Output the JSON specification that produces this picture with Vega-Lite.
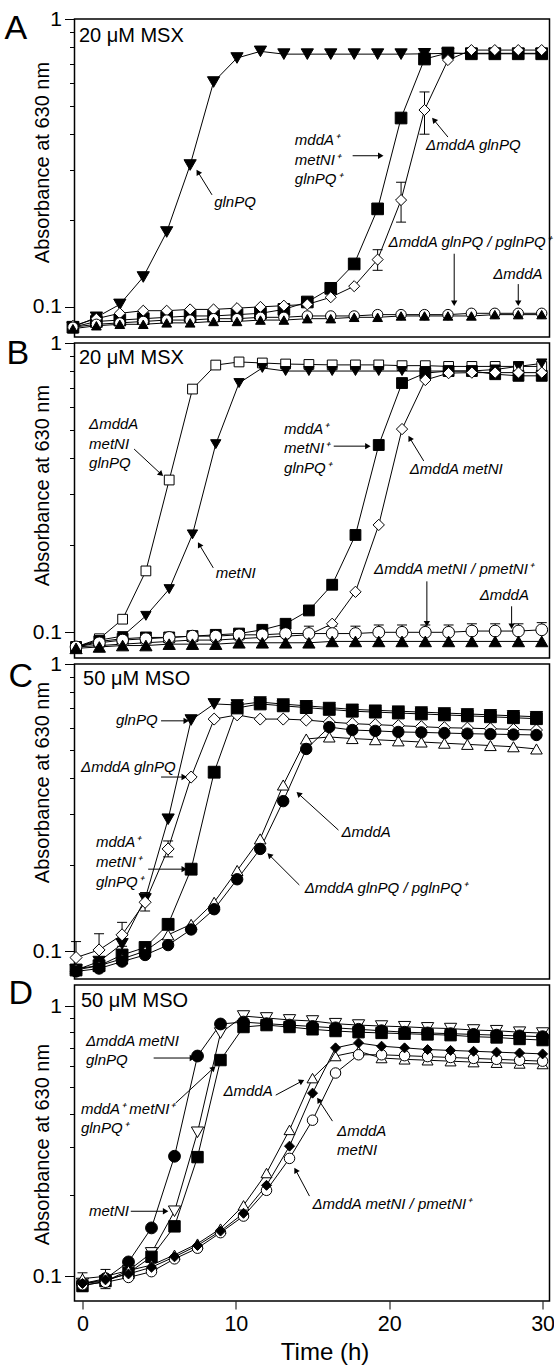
{
"$schema": "https://vega.github.io/schema/vega-lite/v6.json",
"background": "white",
"padding": {"left": 3.5, "top": 7, "right": 0, "bottom": 0},
"autosize": {"type": "pad"},
"config": {
  "view": {"stroke": "black", "strokeWidth": 1.5},
  "axis": {"grid": false, "domain": false, "tickColor": "black", "labelColor": "black", "titleColor": "black", "labelFont": "Liberation Sans", "titleFont": "Liberation Sans", "titleFontWeight": "normal", "tickWidth": 1},
  "axisY": {"tickSize": 10, "labelPadding": 3, "labelFontSize": 21, "titleFontSize": 20, "titleAngle": -90, "titleX": -26.5, "titleBaseline": "alphabetic", "titleAlign": "center"},
  "axisX": {"tickSize": 8, "labelPadding": 4, "labelFontSize": 22, "titleFontSize": 24, "labelFlush": false, "titlePadding": 6},
  "title": {"font": "Liberation Sans", "fontWeight": "normal", "color": "black"}
},
"datasets": {
  "A": [
    {"t":0,"glnPQ":0.085,"wt":0.085,"dglnPQ":0.086,"comp":0.085,"dmddA":0.084},
    {"t":1.5,"glnPQ":0.092,"wt":0.089,"dglnPQ":0.091,"comp":0.087,"dmddA":0.086},
    {"t":3,"glnPQ":0.102,"wt":0.090,"dglnPQ":0.095,"comp":0.088,"dmddA":0.087},
    {"t":4.5,"glnPQ":0.127,"wt":0.091,"dglnPQ":0.097,"comp":0.089,"dmddA":0.087},
    {"t":6,"glnPQ":0.182,"wt":0.092,"dglnPQ":0.097,"comp":0.090,"dmddA":0.088},
    {"t":7.5,"glnPQ":0.311,"wt":0.093,"dglnPQ":0.098,"comp":0.090,"dmddA":0.088},
    {"t":9,"glnPQ":0.604,"wt":0.093,"dglnPQ":0.098,"comp":0.091,"dmddA":0.089},
    {"t":10.5,"glnPQ":0.732,"wt":0.094,"dglnPQ":0.099,"comp":0.091,"dmddA":0.089},
    {"t":12,"glnPQ":0.772,"wt":0.095,"dglnPQ":0.100,"comp":0.092,"dmddA":0.090},
    {"t":13.5,"glnPQ":0.755,"wt":0.098,"dglnPQ":0.101,"comp":0.092,"dmddA":0.090},
    {"t":15,"glnPQ":0.755,"wt":0.104,"dglnPQ":0.102,"comp":0.093,"dmddA":0.091},
    {"t":16.5,"glnPQ":0.755,"wt":0.116,"dglnPQ":0.108,"comp":0.093,"dmddA":0.091},
    {"t":18,"glnPQ":0.755,"wt":0.141,"dglnPQ":0.118,"comp":0.093,"dmddA":0.092},
    {"t":19.5,"glnPQ":0.755,"wt":0.219,"dglnPQ":0.146,"comp":0.094,"dmddA":0.092},
    {"t":21,"glnPQ":0.755,"wt":0.453,"dglnPQ":0.235,"comp":0.094,"dmddA":0.093},
    {"t":22.5,"glnPQ":0.757,"wt":0.726,"dglnPQ":0.483,"comp":0.094,"dmddA":0.093},
    {"t":24,"glnPQ":0.76,"wt":0.762,"dglnPQ":0.72,"comp":0.094,"dmddA":0.093},
    {"t":25.5,"glnPQ":0.76,"wt":0.757,"dglnPQ":0.78,"comp":0.095,"dmddA":0.093},
    {"t":27,"glnPQ":0.76,"wt":0.757,"dglnPQ":0.78,"comp":0.095,"dmddA":0.094},
    {"t":28.5,"glnPQ":0.76,"wt":0.757,"dglnPQ":0.78,"comp":0.095,"dmddA":0.094},
    {"t":30,"glnPQ":0.76,"wt":0.757,"dglnPQ":0.78,"comp":0.095,"dmddA":0.094}
  ],
  "B": [
    {"t":0,"dtriple":0.089,"metNI":0.089,"wt":0.089,"dmetNI":0.089,"comp":0.089,"dmddA":0.088},
    {"t":1.5,"dtriple":0.095,"metNI":0.094,"wt":0.093,"dmetNI":0.090,"comp":0.092,"dmddA":0.089},
    {"t":3,"dtriple":0.111,"metNI":0.097,"wt":0.095,"dmetNI":0.091,"comp":0.094,"dmddA":0.090},
    {"t":4.5,"dtriple":0.163,"metNI":0.114,"wt":0.096,"dmetNI":0.092,"comp":0.095,"dmddA":0.090},
    {"t":6,"dtriple":0.336,"metNI":0.141,"wt":0.096,"dmetNI":0.093,"comp":0.096,"dmddA":0.091},
    {"t":7.5,"dtriple":0.693,"metNI":0.218,"wt":0.097,"dmetNI":0.094,"comp":0.097,"dmddA":0.091},
    {"t":9,"dtriple":0.839,"metNI":0.447,"wt":0.098,"dmetNI":0.094,"comp":0.097,"dmddA":0.091},
    {"t":10.5,"dtriple":0.86,"metNI":0.727,"wt":0.099,"dmetNI":0.095,"comp":0.098,"dmddA":0.092},
    {"t":12,"dtriple":0.853,"metNI":0.82,"wt":0.102,"dmetNI":0.096,"comp":0.098,"dmddA":0.092},
    {"t":13.5,"dtriple":0.846,"metNI":0.80,"wt":0.107,"dmetNI":0.097,"comp":0.099,"dmddA":0.092},
    {"t":15,"dtriple":0.843,"metNI":0.80,"wt":0.119,"dmetNI":0.098,"comp":0.099,"dmddA":0.092},
    {"t":16.5,"dtriple":0.84,"metNI":0.80,"wt":0.146,"dmetNI":0.107,"comp":0.099,"dmddA":0.093},
    {"t":18,"dtriple":0.84,"metNI":0.80,"wt":0.217,"dmetNI":0.138,"comp":0.099,"dmddA":0.093},
    {"t":19.5,"dtriple":0.84,"metNI":0.80,"wt":0.444,"dmetNI":0.235,"comp":0.100,"dmddA":0.093},
    {"t":21,"dtriple":0.835,"metNI":0.80,"wt":0.727,"dmetNI":0.504,"comp":0.100,"dmddA":0.093},
    {"t":22.5,"dtriple":0.835,"metNI":0.80,"wt":0.787,"dmetNI":0.745,"comp":0.100,"dmddA":0.093},
    {"t":24,"dtriple":0.83,"metNI":0.80,"wt":0.80,"dmetNI":0.787,"comp":0.100,"dmddA":0.093},
    {"t":25.5,"dtriple":0.83,"metNI":0.80,"wt":0.80,"dmetNI":0.79,"comp":0.101,"dmddA":0.093},
    {"t":27,"dtriple":0.83,"metNI":0.81,"wt":0.78,"dmetNI":0.79,"comp":0.101,"dmddA":0.093},
    {"t":28.5,"dtriple":0.83,"metNI":0.83,"wt":0.77,"dmetNI":0.79,"comp":0.101,"dmddA":0.093},
    {"t":30,"dtriple":0.83,"metNI":0.85,"wt":0.77,"dmetNI":0.79,"comp":0.102,"dmddA":0.093}
  ],
  "C": [
    {"t":0,"glnPQ":0.086,"dglnPQ":0.095,"wt":0.086,"dmddA":0.087,"comp":0.085},
    {"t":1.5,"glnPQ":0.092,"dglnPQ":0.101,"wt":0.089,"dmddA":0.089,"comp":0.087},
    {"t":3,"glnPQ":0.106,"dglnPQ":0.114,"wt":0.097,"dmddA":0.094,"comp":0.092},
    {"t":4.5,"glnPQ":0.152,"dglnPQ":0.148,"wt":0.103,"dmddA":0.100,"comp":0.097},
    {"t":6,"glnPQ":0.288,"dglnPQ":0.227,"wt":0.124,"dmddA":0.114,"comp":0.105},
    {"t":7.5,"glnPQ":0.638,"dglnPQ":0.404,"wt":0.193,"dmddA":0.124,"comp":0.119},
    {"t":9,"glnPQ":0.726,"dglnPQ":0.643,"wt":0.42,"dmddA":0.148,"comp":0.14},
    {"t":10.5,"glnPQ":0.72,"dglnPQ":0.665,"wt":0.703,"dmddA":0.191,"comp":0.178},
    {"t":12,"glnPQ":0.737,"dglnPQ":0.643,"wt":0.726,"dmddA":0.246,"comp":0.227},
    {"t":13.5,"glnPQ":0.725,"dglnPQ":0.643,"wt":0.715,"dmddA":0.379,"comp":0.333},
    {"t":15,"glnPQ":0.715,"dglnPQ":0.638,"wt":0.705,"dmddA":0.548,"comp":0.506},
    {"t":16.5,"glnPQ":0.705,"dglnPQ":0.628,"wt":0.695,"dmddA":0.557,"comp":0.603},
    {"t":18,"glnPQ":0.695,"dglnPQ":0.62,"wt":0.685,"dmddA":0.55,"comp":0.589},
    {"t":19.5,"glnPQ":0.69,"dglnPQ":0.615,"wt":0.68,"dmddA":0.545,"comp":0.585},
    {"t":21,"glnPQ":0.685,"dglnPQ":0.61,"wt":0.675,"dmddA":0.54,"comp":0.58},
    {"t":22.5,"glnPQ":0.68,"dglnPQ":0.605,"wt":0.67,"dmddA":0.535,"comp":0.578},
    {"t":24,"glnPQ":0.675,"dglnPQ":0.60,"wt":0.665,"dmddA":0.53,"comp":0.575},
    {"t":25.5,"glnPQ":0.67,"dglnPQ":0.598,"wt":0.66,"dmddA":0.525,"comp":0.572},
    {"t":27,"glnPQ":0.665,"dglnPQ":0.595,"wt":0.655,"dmddA":0.52,"comp":0.57},
    {"t":28.5,"glnPQ":0.66,"dglnPQ":0.592,"wt":0.65,"dmddA":0.515,"comp":0.568},
    {"t":30,"glnPQ":0.655,"dglnPQ":0.589,"wt":0.645,"dmddA":0.506,"comp":0.566}
  ],
  "D": [
    {"t":0,"metNI":0.094,"dtriple":0.094,"wt":0.092,"dmddA":0.098,"comp":0.093,"dmetNI":0.094},
    {"t":1.5,"metNI":0.096,"dtriple":0.098,"wt":0.096,"dmddA":0.100,"comp":0.095,"dmetNI":0.097},
    {"t":3,"metNI":0.105,"dtriple":0.113,"wt":0.103,"dmddA":0.105,"comp":0.099,"dmetNI":0.102},
    {"t":4.5,"metNI":0.122,"dtriple":0.151,"wt":0.118,"dmddA":0.110,"comp":0.104,"dmetNI":0.108},
    {"t":6,"metNI":0.174,"dtriple":0.278,"wt":0.153,"dmddA":0.120,"comp":0.116,"dmetNI":0.118},
    {"t":7.5,"metNI":0.341,"dtriple":0.653,"wt":0.276,"dmddA":0.132,"comp":0.127,"dmetNI":0.130},
    {"t":9,"metNI":0.794,"dtriple":0.858,"wt":0.631,"dmddA":0.150,"comp":0.145,"dmetNI":0.147},
    {"t":10.5,"metNI":0.918,"dtriple":0.872,"wt":0.836,"dmddA":0.183,"comp":0.167,"dmetNI":0.171},
    {"t":12,"metNI":0.903,"dtriple":0.86,"wt":0.85,"dmddA":0.241,"comp":0.208,"dmetNI":0.217},
    {"t":13.5,"metNI":0.888,"dtriple":0.85,"wt":0.836,"dmddA":0.348,"comp":0.273,"dmetNI":0.303},
    {"t":15,"metNI":0.88,"dtriple":0.84,"wt":0.82,"dmddA":0.541,"comp":0.378,"dmetNI":0.476},
    {"t":16.5,"metNI":0.86,"dtriple":0.83,"wt":0.808,"dmddA":0.653,"comp":0.565,"dmetNI":0.70},
    {"t":18,"metNI":0.85,"dtriple":0.82,"wt":0.80,"dmddA":0.68,"comp":0.66,"dmetNI":0.73},
    {"t":19.5,"metNI":0.843,"dtriple":0.81,"wt":0.795,"dmddA":0.642,"comp":0.66,"dmetNI":0.71},
    {"t":21,"metNI":0.838,"dtriple":0.80,"wt":0.79,"dmddA":0.635,"comp":0.655,"dmetNI":0.70},
    {"t":22.5,"metNI":0.83,"dtriple":0.795,"wt":0.785,"dmddA":0.63,"comp":0.65,"dmetNI":0.69},
    {"t":24,"metNI":0.825,"dtriple":0.79,"wt":0.78,"dmddA":0.625,"comp":0.645,"dmetNI":0.685},
    {"t":25.5,"metNI":0.815,"dtriple":0.785,"wt":0.77,"dmddA":0.62,"comp":0.64,"dmetNI":0.68},
    {"t":27,"metNI":0.81,"dtriple":0.78,"wt":0.765,"dmddA":0.617,"comp":0.635,"dmetNI":0.675},
    {"t":28.5,"metNI":0.80,"dtriple":0.775,"wt":0.755,"dmddA":0.613,"comp":0.63,"dmetNI":0.67},
    {"t":30,"metNI":0.794,"dtriple":0.77,"wt":0.748,"dmddA":0.61,"comp":0.625,"dmetNI":0.665}
  ],
  "err": [
    {"p":"A","t":19.5,"lo":0.134,"hi":0.158},
    {"p":"A","t":21,"lo":0.197,"hi":0.271},
    {"p":"A","t":22.5,"lo":0.398,"hi":0.558},
    {"p":"B","t":15,"lo":0.094,"hi":0.105},
    {"p":"B","t":16.5,"lo":0.094,"hi":0.105},
    {"p":"B","t":18,"lo":0.094,"hi":0.105},
    {"p":"B","t":19.5,"lo":0.095,"hi":0.106},
    {"p":"B","t":21,"lo":0.095,"hi":0.106},
    {"p":"B","t":22.5,"lo":0.095,"hi":0.106},
    {"p":"B","t":24,"lo":0.095,"hi":0.106},
    {"p":"B","t":25.5,"lo":0.096,"hi":0.107},
    {"p":"B","t":27,"lo":0.096,"hi":0.107},
    {"p":"B","t":28.5,"lo":0.096,"hi":0.107},
    {"p":"B","t":30,"lo":0.097,"hi":0.108},
    {"p":"C","t":0,"lo":0.086,"hi":0.108},
    {"p":"C","t":1.5,"lo":0.092,"hi":0.115},
    {"p":"C","t":3,"lo":0.104,"hi":0.126},
    {"p":"C","t":4.5,"lo":0.138,"hi":0.160},
    {"p":"C","t":6,"lo":0.213,"hi":0.242},
    {"p":"D","t":0,"lo":0.088,"hi":0.103},
    {"p":"D","t":1.5,"lo":0.090,"hi":0.106}
  ],
  "cond": [
    {"p":"A","t":0.38,"v":0.832,"label":"20 μM MSX"},
    {"p":"B","t":0.19,"v":0.846,"label":"20 μM MSX"},
    {"p":"C","t":0.46,"v":0.845,"label":"50 μM MSO"},
    {"p":"D","t":-0.1,"v":0.99,"label":"50 μM MSO"}
  ],
  "ann": [
    {"p":"A","t":9.04,"v":0.222,"label":"glnPQ"},
    {"p":"A","t":14.2,"v":0.365,"label":"mddA⁺\nmetNI⁺\nglnPQ⁺"},
    {"p":"A","t":22.6,"v":0.351,"label":"ΔmddA glnPQ"},
    {"p":"A","t":20.2,"v":0.161,"label":"ΔmddA glnPQ / pglnPQ⁺"},
    {"p":"A","t":26.9,"v":0.125,"label":"ΔmddA"},
    {"p":"B","t":0.84,"v":0.504,"label":"ΔmddA\nmetNI\nglnPQ"},
    {"p":"B","t":9.0,"v":0.154,"label":"metNI"},
    {"p":"B","t":13.4,"v":0.485,"label":"mddA⁺\nmetNI⁺\nglnPQ⁺"},
    {"p":"B","t":21.5,"v":0.352,"label":"ΔmddA metNI"},
    {"p":"B","t":19.2,"v":0.159,"label":"ΔmddA metNI / pmetNI⁺"},
    {"p":"B","t":26.0,"v":0.129,"label":"ΔmddA"},
    {"p":"C","t":2.6,"v":0.613,"label":"glnPQ"},
    {"p":"C","t":0.33,"v":0.42,"label":"ΔmddA glnPQ"},
    {"p":"C","t":1.3,"v":0.23,"label":"mddA⁺\nmetNI⁺\nglnPQ⁺"},
    {"p":"C","t":17.3,"v":0.25,"label":"ΔmddA"},
    {"p":"C","t":14.9,"v":0.16,"label":"ΔmddA glnPQ / pglnPQ⁺"},
    {"p":"D","t":0.23,"v":0.711,"label":"ΔmddA metNI\nglnPQ"},
    {"p":"D","t":-0.1,"v":0.398,"label":"mddA⁺ metNI⁺\nglnPQ⁺"},
    {"p":"D","t":0.42,"v":0.167,"label":"metNI"},
    {"p":"D","t":9.19,"v":0.464,"label":"ΔmddA"},
    {"p":"D","t":16.6,"v":0.33,"label":"ΔmddA\nmetNI"},
    {"p":"D","t":15.0,"v":0.178,"label":"ΔmddA metNI / pmetNI⁺"}
  ],
  "arr": [
    {"p":"A","t":8.9,"v":0.245,"t2":8.0,"v2":0.294,"ang":329},
    {"p":"A","t":17.9,"v":0.335,"t2":19.7,"v2":0.335,"ang":90},
    {"p":"A","t":24.0,"v":0.389,"t2":23.1,"v2":0.446,"ang":320},
    {"p":"A","t":24.4,"v":0.153,"t2":24.4,"v2":0.103,"ang":180},
    {"p":"A","t":28.5,"v":0.120,"t2":28.5,"v2":0.103,"ang":180},
    {"p":"B","t":3.74,"v":0.430,"t2":5.48,"v2":0.352,"ang":133},
    {"p":"B","t":8.84,"v":0.167,"t2":7.94,"v2":0.201,"ang":330},
    {"p":"B","t":16.6,"v":0.44,"t2":18.8,"v2":0.44,"ang":90},
    {"p":"B","t":22.4,"v":0.391,"t2":21.5,"v2":0.469,"ang":330},
    {"p":"B","t":22.6,"v":0.150,"t2":22.6,"v2":0.107,"ang":180},
    {"p":"B","t":28.06,"v":0.123,"t2":28.06,"v2":0.105,"ang":180},
    {"p":"C","t":5.54,"v":0.634,"t2":7.18,"v2":0.634,"ang":90},
    {"p":"C","t":5.54,"v":0.404,"t2":7.05,"v2":0.404,"ang":90},
    {"p":"C","t":4.7,"v":0.193,"t2":7.05,"v2":0.193,"ang":90},
    {"p":"C","t":17.1,"v":0.264,"t2":14.5,"v2":0.353,"ang":312},
    {"p":"C","t":14.55,"v":0.17,"t2":12.6,"v2":0.216,"ang":315},
    {"p":"D","t":4.64,"v":0.642,"t2":7.17,"v2":0.642,"ang":90},
    {"p":"D","t":6.07,"v":0.437,"t2":8.54,"v2":0.589,"ang":47},
    {"p":"D","t":3.15,"v":0.174,"t2":5.42,"v2":0.174,"ang":90},
    {"p":"D","t":12.6,"v":0.468,"t2":14.3,"v2":0.527,"ang":63},
    {"p":"D","t":16.3,"v":0.375,"t2":15.4,"v2":0.449,"ang":326},
    {"p":"D","t":14.8,"v":0.198,"t2":13.9,"v2":0.247,"ang":330}
  ]
},
"bounds": "flush",
"spacing": 6,
"resolve": {"scale": {"shape": "independent", "fill": "independent", "size": "independent"}},
"vconcat": [
{
  "width": 475, "height": 318,
  "title": {"text": "A", "orient": "none", "anchor": "start", "frame": "group", "offset": 0, "dx": -70, "dy": 20, "baseline": "alphabetic", "align": "left", "fontSize": 34},
  "resolve": {"axis": {"y": "independent"}},
  "layer": [
    {"data": {"name": "err"}, "transform": [{"filter": "datum.p === 'A'"}], "mark": {"type": "rule", "color": "black", "strokeWidth": 1},
     "encoding": {"x": {"field": "t", "type": "quantitative", "scale": {"domain": [0.1, 30.5], "nice": false, "zero": false}, "axis": null},
                  "y": {"field": "lo", "type": "quantitative", "scale": {"type": "log", "domain": [0.0786, 1], "nice": false}, "axis": null}, "y2": {"field": "hi"}}},
    {"data": {"name": "err"}, "transform": [{"filter": "datum.p === 'A'"}], "mark": {"type": "tick", "orient": "horizontal", "color": "black", "size": 10, "thickness": 1, "opacity": 1},
     "encoding": {"x": {"field": "t", "type": "quantitative", "scale": {"domain": [0.1, 30.5], "nice": false, "zero": false}, "axis": null},
                  "y": {"field": "hi", "type": "quantitative", "scale": {"type": "log", "domain": [0.0786, 1], "nice": false}, "axis": null}}},
    {"data": {"name": "err"}, "transform": [{"filter": "datum.p === 'A'"}], "mark": {"type": "tick", "orient": "horizontal", "color": "black", "size": 10, "thickness": 1, "opacity": 1},
     "encoding": {"x": {"field": "t", "type": "quantitative", "scale": {"domain": [0.1, 30.5], "nice": false, "zero": false}, "axis": null},
                  "y": {"field": "lo", "type": "quantitative", "scale": {"type": "log", "domain": [0.0786, 1], "nice": false}, "axis": null}}},
    {"data": {"name": "A"}, "transform": [{"fold": ["glnPQ", "wt", "dglnPQ", "comp", "dmddA"], "as": ["s", "v"]}],
     "mark": {"type": "line", "color": "black", "strokeWidth": 1},
     "encoding": {"x": {"field": "t", "type": "quantitative", "scale": {"domain": [0.1, 30.5], "nice": false, "zero": false}, "axis": null},
                  "y": {"field": "v", "type": "quantitative", "scale": {"type": "log", "domain": [0.0786, 1], "nice": false}, "axis": {"values": [0.1, 1], "format": "~g", "title": "Absorbance at 630 nm", "titleY": 143, "orient": "left"}},
                  "detail": {"field": "s"}}},
    {"data": {"name": "A"}, "transform": [{"fold": ["glnPQ", "wt", "dglnPQ", "comp", "dmddA"], "as": ["s", "v"]}],
     "mark": {"type": "point", "filled": true, "stroke": "black", "strokeWidth": 1, "opacity": 1, "fillOpacity": 1},
     "encoding": {"x": {"field": "t", "type": "quantitative", "scale": {"domain": [0.1, 30.5], "nice": false, "zero": false}, "axis": null},
                  "y": {"field": "v", "type": "quantitative", "scale": {"type": "log", "domain": [0.0786, 1], "nice": false}, "axis": {"values": [0.2, 0.3, 0.4, 0.5, 0.6, 0.7, 0.8, 0.9], "labels": false, "tickSize": 5, "title": null, "orient": "left"}},
                  "shape": {"field": "s", "type": "nominal", "scale": {"domain": ["glnPQ", "wt", "dglnPQ", "comp", "dmddA"], "range": ["triangle-down", "square", "diamond", "circle", "triangle-up"]}, "legend": null},
                  "fill": {"field": "s", "type": "nominal", "scale": {"domain": ["glnPQ", "wt", "dglnPQ", "comp", "dmddA"], "range": ["black", "black", "white", "white", "black"]}, "legend": null},
                  "size": {"field": "s", "type": "nominal", "scale": {"domain": ["glnPQ", "wt", "dglnPQ", "comp", "dmddA"], "range": [150, 95, 130, 100, 130]}, "legend": null}}},
    {"data": {"name": "arr"}, "transform": [{"filter": "datum.p === 'A'"}], "mark": {"type": "rule", "color": "black", "strokeWidth": 1},
     "encoding": {"x": {"field": "t", "type": "quantitative", "scale": {"domain": [0.1, 30.5], "nice": false, "zero": false}, "axis": null},
                  "y": {"field": "v", "type": "quantitative", "scale": {"type": "log", "domain": [0.0786, 1], "nice": false}, "axis": null},
                  "x2": {"field": "t2"}, "y2": {"field": "v2"}}},
    {"data": {"name": "arr"}, "transform": [{"filter": "datum.p === 'A'"}], "mark": {"type": "point", "shape": "triangle-up", "filled": true, "color": "black", "size": 40, "opacity": 1},
     "encoding": {"x": {"field": "t2", "type": "quantitative", "scale": {"domain": [0.1, 30.5], "nice": false, "zero": false}, "axis": null},
                  "y": {"field": "v2", "type": "quantitative", "scale": {"type": "log", "domain": [0.0786, 1], "nice": false}, "axis": null},
                  "angle": {"field": "ang", "type": "quantitative", "scale": null}}},
    {"data": {"name": "ann"}, "transform": [{"filter": "datum.p === 'A'"}], "mark": {"type": "text", "align": "left", "baseline": "alphabetic", "fontStyle": "italic", "fontSize": 15, "font": "Liberation Sans", "lineBreak": "\n", "lineHeight": 19.5, "color": "black"},
     "encoding": {"x": {"field": "t", "type": "quantitative", "scale": {"domain": [0.1, 30.5], "nice": false, "zero": false}, "axis": null},
                  "y": {"field": "v", "type": "quantitative", "scale": {"type": "log", "domain": [0.0786, 1], "nice": false}, "axis": null},
                  "text": {"field": "label", "type": "nominal"}}},
    {"data": {"name": "cond"}, "transform": [{"filter": "datum.p === 'A'"}], "mark": {"type": "text", "align": "left", "baseline": "alphabetic", "fontSize": 20, "font": "Liberation Sans", "color": "black"},
     "encoding": {"x": {"field": "t", "type": "quantitative", "scale": {"domain": [0.1, 30.5], "nice": false, "zero": false}, "axis": null},
                  "y": {"field": "v", "type": "quantitative", "scale": {"type": "log", "domain": [0.0786, 1], "nice": false}, "axis": null},
                  "text": {"field": "label", "type": "nominal"}}}
  ]
},
{
  "width": 475, "height": 315,
  "title": {"text": "B", "orient": "none", "anchor": "start", "frame": "group", "offset": 0, "dx": -68, "dy": 21, "baseline": "alphabetic", "align": "left", "fontSize": 34},
  "resolve": {"axis": {"y": "independent"}},
  "layer": [
    {"data": {"name": "err"}, "transform": [{"filter": "datum.p === 'B'"}], "mark": {"type": "rule", "color": "black", "strokeWidth": 1},
     "encoding": {"x": {"field": "t", "type": "quantitative", "scale": {"domain": [-0.1, 30.5], "nice": false, "zero": false}, "axis": null},
                  "y": {"field": "lo", "type": "quantitative", "scale": {"type": "log", "domain": [0.0815, 1], "nice": false}, "axis": null}, "y2": {"field": "hi"}}},
    {"data": {"name": "err"}, "transform": [{"filter": "datum.p === 'B'"}], "mark": {"type": "tick", "orient": "horizontal", "color": "black", "size": 10, "thickness": 1, "opacity": 1},
     "encoding": {"x": {"field": "t", "type": "quantitative", "scale": {"domain": [-0.1, 30.5], "nice": false, "zero": false}, "axis": null},
                  "y": {"field": "hi", "type": "quantitative", "scale": {"type": "log", "domain": [0.0815, 1], "nice": false}, "axis": null}}},
    {"data": {"name": "B"}, "transform": [{"fold": ["dtriple", "metNI", "wt", "dmetNI", "comp", "dmddA"], "as": ["s", "v"]}],
     "mark": {"type": "line", "color": "black", "strokeWidth": 1},
     "encoding": {"x": {"field": "t", "type": "quantitative", "scale": {"domain": [-0.1, 30.5], "nice": false, "zero": false}, "axis": null},
                  "y": {"field": "v", "type": "quantitative", "scale": {"type": "log", "domain": [0.0815, 1], "nice": false}, "axis": {"values": [0.1, 1], "format": "~g", "title": "Absorbance at 630 nm", "titleY": 142, "orient": "left"}},
                  "detail": {"field": "s"}}},
    {"data": {"name": "B"}, "transform": [{"fold": ["dtriple", "metNI", "wt", "dmetNI", "comp", "dmddA"], "as": ["s", "v"]}],
     "mark": {"type": "point", "filled": true, "stroke": "black", "strokeWidth": 1, "opacity": 1, "fillOpacity": 1},
     "encoding": {"x": {"field": "t", "type": "quantitative", "scale": {"domain": [-0.1, 30.5], "nice": false, "zero": false}, "axis": null},
                  "y": {"field": "v", "type": "quantitative", "scale": {"type": "log", "domain": [0.0815, 1], "nice": false}, "axis": {"values": [0.2, 0.3, 0.4, 0.5, 0.6, 0.7, 0.8, 0.9], "labels": false, "tickSize": 5, "title": null, "orient": "left"}},
                  "shape": {"field": "s", "type": "nominal", "scale": {"domain": ["dtriple", "metNI", "wt", "dmetNI", "comp", "dmddA"], "range": ["square", "triangle-down", "square", "diamond", "circle", "triangle-up"]}, "legend": null},
                  "fill": {"field": "s", "type": "nominal", "scale": {"domain": ["dtriple", "metNI", "wt", "dmetNI", "comp", "dmddA"], "range": ["white", "black", "black", "white", "white", "black"]}, "legend": null},
                  "size": {"field": "s", "type": "nominal", "scale": {"domain": ["dtriple", "metNI", "wt", "dmetNI", "comp", "dmddA"], "range": [95, 150, 95, 130, 100, 130]}, "legend": null}}},
    {"data": {"name": "arr"}, "transform": [{"filter": "datum.p === 'B'"}], "mark": {"type": "rule", "color": "black", "strokeWidth": 1},
     "encoding": {"x": {"field": "t", "type": "quantitative", "scale": {"domain": [-0.1, 30.5], "nice": false, "zero": false}, "axis": null},
                  "y": {"field": "v", "type": "quantitative", "scale": {"type": "log", "domain": [0.0815, 1], "nice": false}, "axis": null},
                  "x2": {"field": "t2"}, "y2": {"field": "v2"}}},
    {"data": {"name": "arr"}, "transform": [{"filter": "datum.p === 'B'"}], "mark": {"type": "point", "shape": "triangle-up", "filled": true, "color": "black", "size": 40, "opacity": 1},
     "encoding": {"x": {"field": "t2", "type": "quantitative", "scale": {"domain": [-0.1, 30.5], "nice": false, "zero": false}, "axis": null},
                  "y": {"field": "v2", "type": "quantitative", "scale": {"type": "log", "domain": [0.0815, 1], "nice": false}, "axis": null},
                  "angle": {"field": "ang", "type": "quantitative", "scale": null}}},
    {"data": {"name": "ann"}, "transform": [{"filter": "datum.p === 'B'"}], "mark": {"type": "text", "align": "left", "baseline": "alphabetic", "fontStyle": "italic", "fontSize": 15, "font": "Liberation Sans", "lineBreak": "\n", "lineHeight": 19.5, "color": "black"},
     "encoding": {"x": {"field": "t", "type": "quantitative", "scale": {"domain": [-0.1, 30.5], "nice": false, "zero": false}, "axis": null},
                  "y": {"field": "v", "type": "quantitative", "scale": {"type": "log", "domain": [0.0815, 1], "nice": false}, "axis": null},
                  "text": {"field": "label", "type": "nominal"}}},
    {"data": {"name": "cond"}, "transform": [{"filter": "datum.p === 'B'"}], "mark": {"type": "text", "align": "left", "baseline": "alphabetic", "fontSize": 20, "font": "Liberation Sans", "color": "black"},
     "encoding": {"x": {"field": "t", "type": "quantitative", "scale": {"domain": [-0.1, 30.5], "nice": false, "zero": false}, "axis": null},
                  "y": {"field": "v", "type": "quantitative", "scale": {"type": "log", "domain": [0.0815, 1], "nice": false}, "axis": null},
                  "text": {"field": "label", "type": "nominal"}}}
  ]
},
{
  "width": 475, "height": 315,
  "title": {"text": "C", "orient": "none", "anchor": "start", "frame": "group", "offset": 0, "dx": -66, "dy": 23, "baseline": "alphabetic", "align": "left", "fontSize": 34},
  "resolve": {"axis": {"y": "independent"}},
  "layer": [
    {"data": {"name": "err"}, "transform": [{"filter": "datum.p === 'C'"}], "mark": {"type": "rule", "color": "black", "strokeWidth": 1},
     "encoding": {"x": {"field": "t", "type": "quantitative", "scale": {"domain": [-0.1, 30.85], "nice": false, "zero": false}, "axis": null},
                  "y": {"field": "lo", "type": "quantitative", "scale": {"type": "log", "domain": [0.080, 1], "nice": false}, "axis": null}, "y2": {"field": "hi"}}},
    {"data": {"name": "err"}, "transform": [{"filter": "datum.p === 'C'"}], "mark": {"type": "tick", "orient": "horizontal", "color": "black", "size": 10, "thickness": 1, "opacity": 1},
     "encoding": {"x": {"field": "t", "type": "quantitative", "scale": {"domain": [-0.1, 30.85], "nice": false, "zero": false}, "axis": null},
                  "y": {"field": "hi", "type": "quantitative", "scale": {"type": "log", "domain": [0.080, 1], "nice": false}, "axis": null}}},
    {"data": {"name": "err"}, "transform": [{"filter": "datum.p === 'C'"}], "mark": {"type": "tick", "orient": "horizontal", "color": "black", "size": 10, "thickness": 1, "opacity": 1},
     "encoding": {"x": {"field": "t", "type": "quantitative", "scale": {"domain": [-0.1, 30.85], "nice": false, "zero": false}, "axis": null},
                  "y": {"field": "lo", "type": "quantitative", "scale": {"type": "log", "domain": [0.080, 1], "nice": false}, "axis": null}}},
    {"data": {"name": "C"}, "transform": [{"fold": ["glnPQ", "dglnPQ", "wt", "dmddA", "comp"], "as": ["s", "v"]}],
     "mark": {"type": "line", "color": "black", "strokeWidth": 1},
     "encoding": {"x": {"field": "t", "type": "quantitative", "scale": {"domain": [-0.1, 30.85], "nice": false, "zero": false}, "axis": null},
                  "y": {"field": "v", "type": "quantitative", "scale": {"type": "log", "domain": [0.080, 1], "nice": false}, "axis": {"values": [0.1, 1], "format": "~g", "title": "Absorbance at 630 nm", "titleY": 118, "orient": "left"}},
                  "detail": {"field": "s"}}},
    {"data": {"name": "C"}, "transform": [{"fold": ["glnPQ", "dglnPQ", "wt", "dmddA", "comp"], "as": ["s", "v"]}],
     "mark": {"type": "point", "filled": true, "stroke": "black", "strokeWidth": 1, "opacity": 1, "fillOpacity": 1},
     "encoding": {"x": {"field": "t", "type": "quantitative", "scale": {"domain": [-0.1, 30.85], "nice": false, "zero": false}, "axis": null},
                  "y": {"field": "v", "type": "quantitative", "scale": {"type": "log", "domain": [0.080, 1], "nice": false}, "axis": {"values": [0.2, 0.3, 0.4, 0.5, 0.6, 0.7, 0.8, 0.9], "labels": false, "tickSize": 5, "title": null, "orient": "left"}},
                  "shape": {"field": "s", "type": "nominal", "scale": {"domain": ["glnPQ", "dglnPQ", "wt", "dmddA", "comp"], "range": ["triangle-down", "diamond", "square", "triangle-up", "circle"]}, "legend": null},
                  "fill": {"field": "s", "type": "nominal", "scale": {"domain": ["glnPQ", "dglnPQ", "wt", "dmddA", "comp"], "range": ["black", "white", "black", "white", "black"]}, "legend": null},
                  "size": {"field": "s", "type": "nominal", "scale": {"domain": ["glnPQ", "dglnPQ", "wt", "dmddA", "comp"], "range": [150, 130, 95, 150, 100]}, "legend": null}}},
    {"data": {"name": "arr"}, "transform": [{"filter": "datum.p === 'C'"}], "mark": {"type": "rule", "color": "black", "strokeWidth": 1},
     "encoding": {"x": {"field": "t", "type": "quantitative", "scale": {"domain": [-0.1, 30.85], "nice": false, "zero": false}, "axis": null},
                  "y": {"field": "v", "type": "quantitative", "scale": {"type": "log", "domain": [0.080, 1], "nice": false}, "axis": null},
                  "x2": {"field": "t2"}, "y2": {"field": "v2"}}},
    {"data": {"name": "arr"}, "transform": [{"filter": "datum.p === 'C'"}], "mark": {"type": "point", "shape": "triangle-up", "filled": true, "color": "black", "size": 40, "opacity": 1},
     "encoding": {"x": {"field": "t2", "type": "quantitative", "scale": {"domain": [-0.1, 30.85], "nice": false, "zero": false}, "axis": null},
                  "y": {"field": "v2", "type": "quantitative", "scale": {"type": "log", "domain": [0.080, 1], "nice": false}, "axis": null},
                  "angle": {"field": "ang", "type": "quantitative", "scale": null}}},
    {"data": {"name": "ann"}, "transform": [{"filter": "datum.p === 'C'"}], "mark": {"type": "text", "align": "left", "baseline": "alphabetic", "fontStyle": "italic", "fontSize": 15, "font": "Liberation Sans", "lineBreak": "\n", "lineHeight": 20, "color": "black"},
     "encoding": {"x": {"field": "t", "type": "quantitative", "scale": {"domain": [-0.1, 30.85], "nice": false, "zero": false}, "axis": null},
                  "y": {"field": "v", "type": "quantitative", "scale": {"type": "log", "domain": [0.080, 1], "nice": false}, "axis": null},
                  "text": {"field": "label", "type": "nominal"}}},
    {"data": {"name": "cond"}, "transform": [{"filter": "datum.p === 'C'"}], "mark": {"type": "text", "align": "left", "baseline": "alphabetic", "fontSize": 20, "font": "Liberation Sans", "color": "black"},
     "encoding": {"x": {"field": "t", "type": "quantitative", "scale": {"domain": [-0.1, 30.85], "nice": false, "zero": false}, "axis": null},
                  "y": {"field": "v", "type": "quantitative", "scale": {"type": "log", "domain": [0.080, 1], "nice": false}, "axis": null},
                  "text": {"field": "label", "type": "nominal"}}}
  ]
},
{
  "width": 475, "height": 316,
  "title": {"text": "D", "orient": "none", "anchor": "start", "frame": "group", "offset": 0, "dx": -66, "dy": 19, "baseline": "alphabetic", "align": "left", "fontSize": 34},
  "resolve": {"axis": {"y": "independent", "x": "independent"}},
  "layer": [
    {"data": {"name": "err"}, "transform": [{"filter": "datum.p === 'D'"}], "mark": {"type": "rule", "color": "black", "strokeWidth": 1},
     "encoding": {"x": {"field": "t", "type": "quantitative", "scale": {"domain": [-0.52, 30.45], "nice": false, "zero": false}, "axis": null},
                  "y": {"field": "lo", "type": "quantitative", "scale": {"type": "log", "domain": [0.081, 1.196], "nice": false}, "axis": null}, "y2": {"field": "hi"}}},
    {"data": {"name": "err"}, "transform": [{"filter": "datum.p === 'D'"}], "mark": {"type": "tick", "orient": "horizontal", "color": "black", "size": 10, "thickness": 1, "opacity": 1},
     "encoding": {"x": {"field": "t", "type": "quantitative", "scale": {"domain": [-0.52, 30.45], "nice": false, "zero": false}, "axis": null},
                  "y": {"field": "hi", "type": "quantitative", "scale": {"type": "log", "domain": [0.081, 1.196], "nice": false}, "axis": null}}},
    {"data": {"name": "err"}, "transform": [{"filter": "datum.p === 'D'"}], "mark": {"type": "tick", "orient": "horizontal", "color": "black", "size": 10, "thickness": 1, "opacity": 1},
     "encoding": {"x": {"field": "t", "type": "quantitative", "scale": {"domain": [-0.52, 30.45], "nice": false, "zero": false}, "axis": null},
                  "y": {"field": "lo", "type": "quantitative", "scale": {"type": "log", "domain": [0.081, 1.196], "nice": false}, "axis": null}}},
    {"data": {"name": "D"}, "transform": [{"fold": ["metNI", "dtriple", "wt", "dmddA", "comp", "dmetNI"], "as": ["s", "v"]}],
     "mark": {"type": "line", "color": "black", "strokeWidth": 1},
     "encoding": {"x": {"field": "t", "type": "quantitative", "scale": {"domain": [-0.52, 30.45], "nice": false, "zero": false}, "axis": {"values": [0, 10, 20, 30], "title": "Time (h)", "titleX": 250, "orient": "bottom", "labelFontSize": 21.5}},
                  "y": {"field": "v", "type": "quantitative", "scale": {"type": "log", "domain": [0.081, 1.196], "nice": false}, "axis": {"values": [0.1, 1], "format": "~g", "title": "Absorbance at 630 nm", "titleY": 159, "orient": "left"}},
                  "detail": {"field": "s"}}},
    {"data": {"name": "D"}, "transform": [{"fold": ["metNI", "dtriple", "wt", "dmddA", "comp", "dmetNI"], "as": ["s", "v"]}],
     "mark": {"type": "point", "filled": true, "stroke": "black", "strokeWidth": 1, "opacity": 1, "fillOpacity": 1},
     "encoding": {"x": {"field": "t", "type": "quantitative", "scale": {"domain": [-0.52, 30.45], "nice": false, "zero": false}, "axis": null},
                  "y": {"field": "v", "type": "quantitative", "scale": {"type": "log", "domain": [0.081, 1.196], "nice": false}, "axis": {"values": [0.2, 0.3, 0.4, 0.5, 0.6, 0.7, 0.8, 0.9], "labels": false, "tickSize": 5, "title": null, "orient": "left"}},
                  "shape": {"field": "s", "type": "nominal", "scale": {"domain": ["metNI", "dtriple", "wt", "dmddA", "comp", "dmetNI"], "range": ["triangle-down", "circle", "square", "triangle-up", "circle", "diamond"]}, "legend": null},
                  "fill": {"field": "s", "type": "nominal", "scale": {"domain": ["metNI", "dtriple", "wt", "dmddA", "comp", "dmetNI"], "range": ["white", "black", "black", "white", "white", "black"]}, "legend": null},
                  "size": {"field": "s", "type": "nominal", "scale": {"domain": ["metNI", "dtriple", "wt", "dmddA", "comp", "dmetNI"], "range": [150, 100, 95, 150, 100, 130]}, "legend": null}}},
    {"data": {"name": "arr"}, "transform": [{"filter": "datum.p === 'D'"}], "mark": {"type": "rule", "color": "black", "strokeWidth": 1},
     "encoding": {"x": {"field": "t", "type": "quantitative", "scale": {"domain": [-0.52, 30.45], "nice": false, "zero": false}, "axis": null},
                  "y": {"field": "v", "type": "quantitative", "scale": {"type": "log", "domain": [0.081, 1.196], "nice": false}, "axis": null},
                  "x2": {"field": "t2"}, "y2": {"field": "v2"}}},
    {"data": {"name": "arr"}, "transform": [{"filter": "datum.p === 'D'"}], "mark": {"type": "point", "shape": "triangle-up", "filled": true, "color": "black", "size": 40, "opacity": 1},
     "encoding": {"x": {"field": "t2", "type": "quantitative", "scale": {"domain": [-0.52, 30.45], "nice": false, "zero": false}, "axis": null},
                  "y": {"field": "v2", "type": "quantitative", "scale": {"type": "log", "domain": [0.081, 1.196], "nice": false}, "axis": null},
                  "angle": {"field": "ang", "type": "quantitative", "scale": null}}},
    {"data": {"name": "ann"}, "transform": [{"filter": "datum.p === 'D'"}], "mark": {"type": "text", "align": "left", "baseline": "alphabetic", "fontStyle": "italic", "fontSize": 15, "font": "Liberation Sans", "lineBreak": "\n", "lineHeight": 18.5, "color": "black"},
     "encoding": {"x": {"field": "t", "type": "quantitative", "scale": {"domain": [-0.52, 30.45], "nice": false, "zero": false}, "axis": null},
                  "y": {"field": "v", "type": "quantitative", "scale": {"type": "log", "domain": [0.081, 1.196], "nice": false}, "axis": null},
                  "text": {"field": "label", "type": "nominal"}}},
    {"data": {"name": "cond"}, "transform": [{"filter": "datum.p === 'D'"}], "mark": {"type": "text", "align": "left", "baseline": "alphabetic", "fontSize": 20, "font": "Liberation Sans", "color": "black"},
     "encoding": {"x": {"field": "t", "type": "quantitative", "scale": {"domain": [-0.52, 30.45], "nice": false, "zero": false}, "axis": null},
                  "y": {"field": "v", "type": "quantitative", "scale": {"type": "log", "domain": [0.081, 1.196], "nice": false}, "axis": null},
                  "text": {"field": "label", "type": "nominal"}}}
  ]
}
]
}
